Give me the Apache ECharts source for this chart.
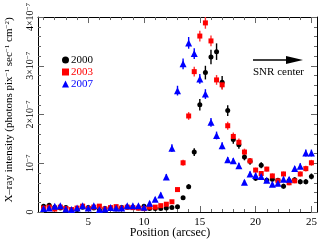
<!DOCTYPE html>
<html><head><meta charset="utf-8">
<script src="https://cdn.jsdelivr.net/npm/echarts@6/dist/echarts.min.js"></script>
<style>html,body{margin:0;padding:0;background:#fff}#c{width:325px;height:241px}</style>
</head><body><div id="c"></div>
<script>
// Position (arcsec)
const positions = [1,1.5,2,2.5,3,3.5,4,4.5,5,5.5,6,6.5,7,7.5,8,8.5,9,9.5,10,10.5,11,11.5,12,12.5,13,13.5,14,14.5,15,15.5,16,16.5,17,17.5,18,18.5,19,19.5,20,20.5,21,21.5,22,22.5,23,23.5,24,24.5,25];
// intensities in units of 1e-7 photons pix^-1 sec^-1 cm^-2
const y2000 = [0.12,0.14,0.10,0.08,0.09,0.04,0.05,0.10,0.09,0.08,0.04,0.07,0.08,0.06,0.09,0.10,0.09,0.08,0.12,0.07,0.07,0.07,0.08,0.09,0.11,0.29,0.52,1.23,2.20,2.86,3.18,3.29,2.66,2.08,1.49,1.38,1.13,1.04,0.69,0.96,0.65,0.67,0.65,0.53,0.64,0.66,0.62,0.62,0.73];
const e2000 = [0.03,0.03,0.03,0.03,0.03,0.03,0.03,0.03,0.03,0.03,0.03,0.03,0.03,0.03,0.03,0.03,0.03,0.03,0.03,0.03,0.03,0.03,0.03,0.03,0.03,0.04,0.05,0.08,0.12,0.14,0.15,0.17,0.13,0.11,0.09,0.08,0.07,0.07,0.05,0.06,0.05,0.05,0.05,0.05,0.05,0.05,0.05,0.05,0.06];
const y2003 = [0.08,0.10,0.06,0.10,0.07,0.05,0.08,0.12,0.07,0.10,0.12,0.06,0.09,0.11,0.08,0.10,0.09,0.08,0.07,0.10,0.10,0.13,0.16,0.21,0.46,1.01,1.97,2.88,3.61,3.88,3.51,2.71,2.61,1.77,1.55,1.43,1.23,1.05,0.86,0.79,0.88,0.74,0.64,0.78,0.60,0.64,0.78,0.89,1.01];
const e2003 = [0.03,0.03,0.03,0.03,0.03,0.03,0.03,0.03,0.03,0.03,0.03,0.03,0.03,0.03,0.03,0.03,0.03,0.03,0.03,0.03,0.03,0.03,0.03,0.03,0.04,0.06,0.08,0.10,0.11,0.12,0.11,0.10,0.10,0.08,0.08,0.08,0.07,0.06,0.05,0.05,0.05,0.05,0.05,0.05,0.05,0.05,0.05,0.06,0.06];
const y2007 = [0.07,0.08,0.12,0.13,0.06,0.05,0.08,0.13,0.08,0.13,0.05,0.06,0.09,0.08,0.08,0.13,0.13,0.13,0.10,0.18,0.26,0.35,0.72,1.31,2.49,3.04,3.47,3.25,2.73,2.42,1.84,1.57,1.36,1.07,1.05,0.95,0.61,0.78,0.75,0.73,0.65,0.57,0.59,0.67,0.67,0.89,0.94,1.21,1.21];
const e2007 = [0.03,0.03,0.03,0.03,0.03,0.03,0.03,0.03,0.03,0.03,0.03,0.03,0.03,0.03,0.03,0.03,0.03,0.03,0.03,0.04,0.04,0.05,0.06,0.08,0.10,0.11,0.12,0.11,0.10,0.10,0.09,0.08,0.07,0.06,0.06,0.06,0.05,0.05,0.05,0.05,0.05,0.05,0.05,0.05,0.05,0.05,0.06,0.07,0.07];
const xMajor = [5,10,15,20,25];
const xMinor = [1,2,3,4,6,7,8,9,11,12,13,14,16,17,18,19,21,22,23,24];
const yTickLabels = ['0','10{s|−7}','2×10{s|−7}','3×10{s|−7}','4×10{s|−7}'];

const F = 'Liberation Serif';
const chart = echarts.init(document.getElementById('c'));
const rich = { s: {fontSize: 7, fontFamily: F, lineHeight: 7, verticalAlign: 'top'} };

function errSeries(name, vals, errs, color) {
  return {
    type: 'custom', name: name, xAxisIndex: 0, yAxisIndex: 0, silent: true,
    encode: {x: 0, y: [1, 2]},
    data: positions.map((x, i) => [x, vals[i] - errs[i], vals[i] + errs[i]]),
    renderItem: (params, api) => {
      const a = api.coord([api.value(0), api.value(1)]);
      const b = api.coord([api.value(0), api.value(2)]);
      return {type: 'line', shape: {x1: a[0], y1: a[1], x2: b[0], y2: b[1]},
              style: {stroke: color, lineWidth: 1.4}};
    }
  };
}
function ptSeries(name, vals, color, symbol, size) {
  return {type: 'scatter', name: name, xAxisIndex: 0, yAxisIndex: 0, symbol: symbol, symbolSize: size,
          itemStyle: {color: color, opacity: 1}, data: positions.map((x, i) => [x, vals[i]])};
}
const lineStyle = {color: '#000', width: 1};
const tickStyle = {color: '#666', width: 1};
function xAx(pos, custom, len, labels, line) {
  return {type: 'value', position: pos, min: 0.5, max: 25.5, splitLine: {show: false},
    axisLine: {show: line, onZero: false, lineStyle: lineStyle},
    axisTick: {show: true, inside: true, length: len, customValues: custom, lineStyle: tickStyle},
    axisLabel: labels ? {show: true, customValues: xMajor, fontFamily: F, fontSize: 11, color: '#000', margin: 5} : {show: false}};
}
function yAx(pos, labels) {
  return {type: 'value', position: pos, min: 0, max: 4, interval: 1, splitLine: {show: false},
    axisLine: {show: true, onZero: false, lineStyle: lineStyle},
    axisTick: {show: true, inside: true, length: 6, lineStyle: tickStyle},
    minorTick: {show: true, splitNumber: 5, length: 3, lineStyle: tickStyle},
    axisLabel: labels ? {show: true, rotate: 90, fontFamily: F, fontSize: 10, color: '#000', margin: 3,
      formatter: v => yTickLabels[Math.round(v)], rich: rich} : {show: false}};
}
chart.setOption({
  animation: false,
  grid: {left: 38, right: 8, top: 15, bottom: 29},
  xAxis: [xAx('bottom', xMajor, 6, true, true), xAx('bottom', xMinor, 3, false, false),
          xAx('top', xMajor, 6, false, true), xAx('top', xMinor, 3, false, false)],
  yAxis: [yAx('left', true), yAx('right', false)],
  legend: {orient: 'vertical', left: 57, top: 49, itemWidth: 7, itemHeight: 7, itemGap: 0,
    textStyle: {fontFamily: F, fontSize: 11, lineHeight: 12, padding: [0,0,0,-3]},
    data: [{name: '2000', textStyle: {color: '#000'}}, {name: '2003', textStyle: {color: '#f00'}}, {name: '2007', textStyle: {color: '#00f'}}]},
  series: [
    errSeries('e2000', y2000, e2000, '#000'),
    ptSeries('2000', y2000, '#000', 'circle', 5),
    errSeries('e2003', y2003, e2003, '#f33'),
    ptSeries('2003', y2003, '#f00', 'rect', 5),
    errSeries('e2007', y2007, e2007, '#00f'),
    ptSeries('2007', y2007, '#00f', 'triangle', 7)
  ],
  graphic: [
    {type: 'text', x: 170, y: 233, style: {text: 'Position (arcsec)', fontFamily: F, fontSize: 12, fill: '#000', align: 'center', verticalAlign: 'middle'}},
    {type: 'text', x: 9, y: 110, rotation: Math.PI / 2,
      style: {text: 'X–ray intensity (photons pix{s|−1} sec{s|−1} cm{s|−2})', fontFamily: F, fontSize: 11, fill: '#000',
              align: 'center', verticalAlign: 'middle', rich: rich}},
    {type: 'line', shape: {x1: 253, y1: 60, x2: 290, y2: 60}, style: {stroke: '#000', lineWidth: 1.3}},
    {type: 'polygon', shape: {points: [[286, 56], [303, 60], [286, 64]]}, style: {fill: '#000'}},
    {type: 'text', x: 253, y: 72, style: {text: 'SNR center', fontFamily: F, fontSize: 11, fill: '#000', verticalAlign: 'middle'}}
  ]
});
</script></body></html>
